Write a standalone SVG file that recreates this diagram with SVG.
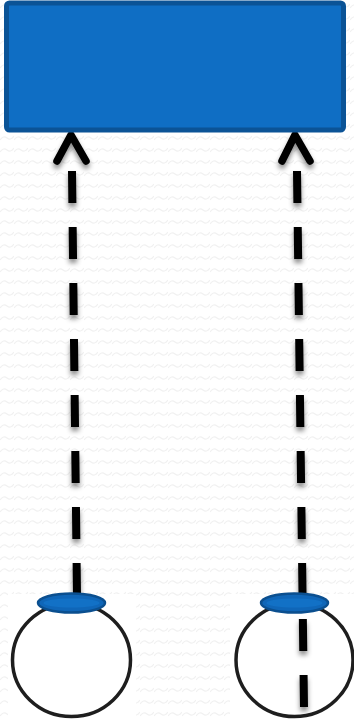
<svg xmlns="http://www.w3.org/2000/svg" width="354" height="721" viewBox="0 0 354 721">
  <defs>
    <pattern id="waves" x="0" y="0" width="14" height="12" patternUnits="userSpaceOnUse">
      <path d="M0 8 Q3.5 3 7 6 T14 4" fill="none" stroke="#f1f1f1" stroke-width="1.2"/>
    </pattern>
    <filter id="shadow" x="-50%" y="-20%" width="200%" height="160%">
      <feDropShadow dx="0" dy="4" stdDeviation="2.5" flood-color="#000" flood-opacity="0.45"/>
    </filter>
  </defs>
  <style>
    .box { fill: #0f6ec4; stroke: #0b5396; stroke-width: 5; }
    .cap { fill: #0f66b8; stroke: #0b4f8f; stroke-width: 2.5; }
    .ring { fill: none; stroke: #1e1e1e; stroke-width: 3.5; }
    .dash { fill: none; stroke: #000; stroke-width: 8; stroke-dasharray: 32 24; }
    .head { fill: none; stroke: #000; stroke-width: 7.5; stroke-linecap: round; stroke-linejoin: round; }
  </style>

  <rect width="354" height="721" fill="#ffffff"/>
  <rect width="354" height="721" fill="url(#waves)"/>
  <rect x="8" y="594" width="128" height="127" fill="#ffffff"/>
  <rect x="230" y="594" width="124" height="127" fill="#ffffff"/>

  <g id="connectors" filter="url(#shadow)">
    <path class="dash" d="M72 171 L77 596"/>
    <path class="head" d="M57 161 L71 135 L86 161"/>
    <path class="dash" d="M297 171 L304 707"/>
    <path class="head" d="M282 161 L295 135 L310 161"/>
  </g>

  <g id="top-box">
    <rect class="box" x="6.5" y="3" width="337" height="127" rx="3"/>
  </g>

  <g id="bulb-left">
    <ellipse class="ring" cx="71.5" cy="660" rx="59" ry="56.5"/>
    <ellipse class="cap" cx="71.5" cy="603" rx="33.5" ry="9.5"/>
    <ellipse cx="71.5" cy="603" rx="28" ry="4.5" fill="#1271c6"/>
  </g>

  <g id="bulb-right">
    <ellipse class="ring" cx="294.5" cy="660" rx="58.5" ry="56.5"/>
    <ellipse class="cap" cx="294.5" cy="603" rx="33.5" ry="9.5"/>
    <ellipse cx="294.5" cy="603" rx="28" ry="4.5" fill="#1271c6"/>
  </g>
</svg>
